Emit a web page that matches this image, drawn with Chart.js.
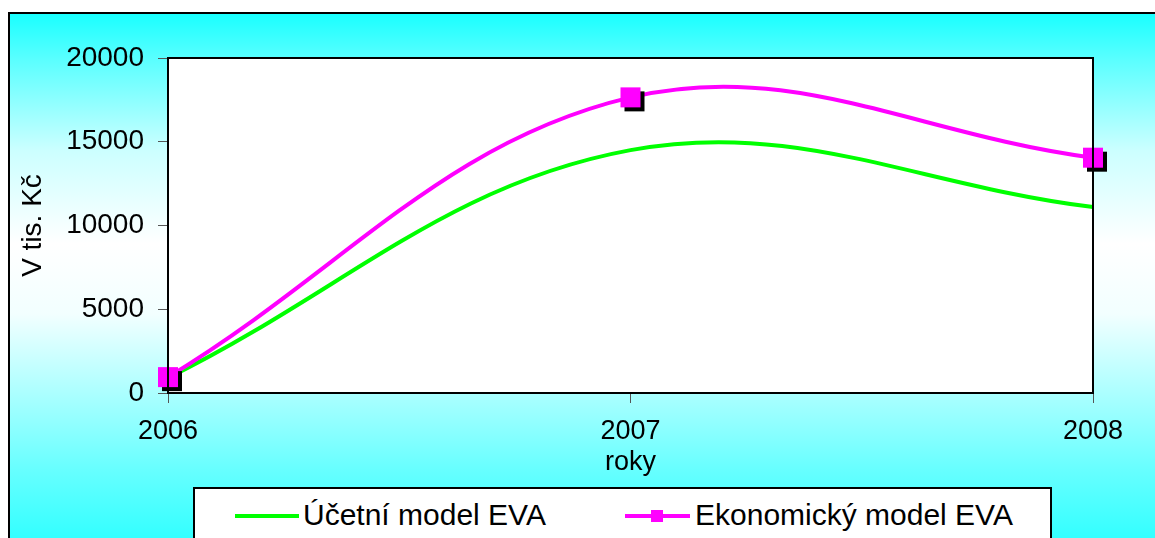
<!DOCTYPE html>
<html>
<head>
<meta charset="utf-8">
<script src="https://cdn.jsdelivr.net/npm/chart.js@4.4.1/dist/chart.umd.min.js"></script>
<style>
  html, body { margin:0; padding:0; background:#fff; overflow:hidden; }
  #wrap { position:relative; width:1155px; height:538px; overflow:hidden; }
  #bg { position:absolute; left:8px; top:12px; width:1200px; height:560px; border:2px solid #000;
        background: linear-gradient(to bottom, #1affff 0px, #5cffff 47px, #ccffff 137px, #ffffff 230px, #f2ffff 300px, #66ffff 457px, #33ffff 525px); }
  #c { position:absolute; left:0; top:0; }
  #legend { position:absolute; left:193px; top:487px; width:855px; height:80px; border:2px solid #000; background:#fff;
            font-family: Arial, "Liberation Sans", sans-serif; font-size:30px; line-height:30px; color:#000; }
  .ln { position:absolute; height:4px; top:25px; }
  .tx { position:absolute; top:11px; white-space:nowrap; }
  .mk { position:absolute; width:12px; height:12px; background:#ff00ff; top:21px; }
</style>
</head>
<body>
<div id="wrap">
  <div id="bg"></div>
  <canvas id="c" width="1155" height="538"></canvas>
  <div id="legend">
    <div class="ln" style="left:40px; width:64px; background:#00ff00;"></div>
    <div class="tx" style="left:108px;">Účetní model EVA</div>
    <div class="ln" style="left:430px; width:65px; background:#ff00ff;"></div>
    <div class="mk" style="left:456px;"></div>
    <div class="tx" style="left:500px;">Ekonomický model EVA</div>
  </div>
</div>
<script>
const years = ['2006', '2007', '2008'];
const ucetniEVA = [900, 14500, 11100];
const ekonomickyEVA = [950, 17650, 14050];
const seriesNames = ['Účetní model EVA', 'Ekonomický model EVA'];
const yTicks = [0, 5000, 10000, 15000, 20000];

const FONT = 'Arial, "Liberation Sans", sans-serif';

// marker image: magenta square with black shadow
const mk = document.createElement('canvas');
mk.width = 30; mk.height = 30;
const mctx = mk.getContext('2d');
mctx.fillStyle = '#000';
mctx.fillRect(9, 9, 20, 20);
mctx.fillStyle = '#ff00ff';
mctx.fillRect(5, 5, 20, 20);

const plotFrame = {
  id: 'plotFrame',
  beforeDatasetsDraw(chart) {
    const a = chart.chartArea, ctx = chart.ctx;
    ctx.save();
    ctx.fillStyle = '#fff';
    ctx.fillRect(a.left, a.top, a.right - a.left, a.bottom - a.top);
    ctx.restore();
  },
  afterDatasetsDraw(chart) {
    const a = chart.chartArea, ctx = chart.ctx;
    ctx.save();
    ctx.strokeStyle = '#000';
    ctx.lineWidth = 2;
    ctx.strokeRect(a.left, a.top, a.right - a.left, a.bottom - a.top);
    ctx.restore();
  }
};

new Chart(document.getElementById('c'), {
  type: 'line',
  data: {
    labels: years,
    datasets: [
      { label: seriesNames[0], data: ucetniEVA, borderColor: '#00ff00', backgroundColor: '#00ff00',
        borderWidth: 4, pointRadius: 0, tension: 0.38, order: 1, fill: false },
      { label: seriesNames[1], data: ekonomickyEVA, borderColor: '#ff00ff', backgroundColor: '#ff00ff',
        borderWidth: 4, pointStyle: mk, pointRadius: 10, tension: 0.38, order: 0, fill: false }
    ]
  },
  options: {
    responsive: false,
    animation: false,
    events: [],
    layout: { padding: { left: 0, right: 62, top: 58, bottom: 0 } },
    plugins: { legend: { display: false }, tooltip: { enabled: false }, title: { display: false } },
    scales: {
      x: {
        offset: false,
        afterFit(s) { s.height = 145; },
        grid: { drawOnChartArea: false, drawTicks: true, tickLength: 10, color: '#555', lineWidth: 1 },
        border: { display: true, color: '#000', width: 2 },
        ticks: { color: '#000', font: { family: FONT, size: 27 }, padding: 12, maxRotation: 0 },
        title: { display: true, text: 'roky', color: '#000', font: { family: FONT, size: 27 }, padding: { top: 0, bottom: 59 } }
      },
      y: {
        min: 0, max: 20000,
        afterFit(s) { s.width = 168; },
        afterBuildTicks(s) { s.ticks = yTicks.map(v => ({ value: v })); },
        grid: { drawOnChartArea: false, drawTicks: true, tickLength: 10, color: '#555', lineWidth: 1 },
        border: { display: true, color: '#000', width: 2 },
        ticks: { color: '#000', font: { family: FONT, size: 28 }, padding: 14, callback: v => String(v) },
        title: { display: true, text: 'V tis. Kč', color: '#000', font: { family: FONT, size: 28 }, padding: { top: 16, bottom: 0 } }
      }
    }
  },
  plugins: [plotFrame]
});
</script>
</body>
</html>
